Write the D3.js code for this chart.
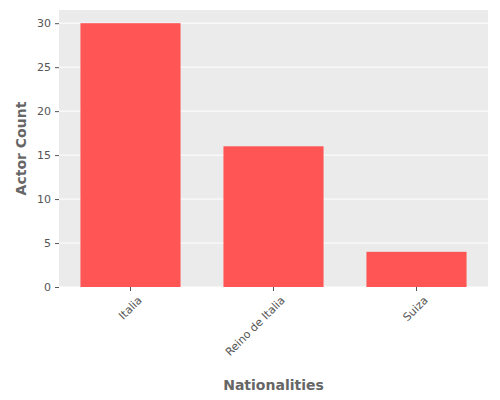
<!DOCTYPE html><html><head><script src="https://cdn.jsdelivr.net/npm/d3@7"></script>
<style>body{margin:0}svg{font-family:"DejaVu Sans",sans-serif}</style></head><body><script>
const categories=["Italia","Reino de Italia","Suiza"];
const counts=[30,16,4];
const yTicks=[0,5,10,15,20,25,30];
const W=500,H=400,m={l:59,r:12,t:10,b:113};
const svg=d3.select("body").append("svg").attr("width",W).attr("height",H);
const x=d3.scaleBand().domain(categories).range([m.l,W-m.r]).paddingInner(0.3).paddingOuter(0.15);
const y=d3.scaleLinear().domain([0,31.5]).range([H-m.b,m.t]);
svg.append("rect").attr("x",m.l).attr("y",m.t).attr("width",W-m.l-m.r).attr("height",H-m.t-m.b).attr("fill","#ebebeb");
svg.selectAll(".g").data(yTicks).enter().append("line").attr("x1",m.l).attr("x2",W-m.r).attr("y1",d=>y(d)).attr("y2",d=>y(d)).attr("stroke","#fff").attr("stroke-width",1);
svg.selectAll(".b").data(categories).enter().append("rect").attr("x",d=>x(d)).attr("width",x.bandwidth()).attr("y",(d,i)=>y(counts[i])).attr("height",(d,i)=>y(0)-y(counts[i])).attr("fill","#ff5555");
const ya=svg.append("g").attr("transform",`translate(${m.l},0)`).call(d3.axisLeft(y).tickValues(yTicks).tickSize(4).tickPadding(4));
const xa=svg.append("g").attr("transform",`translate(0,${H-m.b})`).call(d3.axisBottom(x).tickSize(4).tickPadding(4));
[ya,xa].forEach(a=>{a.select(".domain").remove();a.selectAll("line").attr("stroke","#555");a.selectAll("text").attr("fill","#555").attr("font-size",11).attr("font-family","DejaVu Sans");});
xa.selectAll("text").attr("text-anchor","end").attr("dy","0.3em").attr("transform","translate(4,6) rotate(-45)");
svg.append("text").attr("x",(m.l+W-m.r)/2).attr("y",390).attr("text-anchor","middle").attr("font-size",14).attr("font-weight","bold").attr("fill","#666").text("Nationalities");
svg.append("text").attr("transform",`translate(26,${(m.t+H-m.b)/2}) rotate(-90)`).attr("text-anchor","middle").attr("font-size",14).attr("font-weight","bold").attr("fill","#666").text("Actor Count");
</script></body></html>
